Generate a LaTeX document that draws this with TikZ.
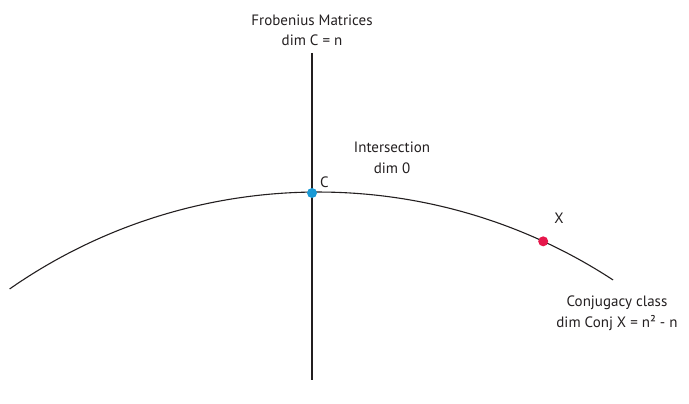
\documentclass[tikz,border=0pt]{standalone}
\usepackage{fontspec}
\setmainfont{PT Sans}
\usepackage{tikz}
\usetikzlibrary{positioning, calc}
\definecolor{FigText}{HTML}{231F20}
\definecolor{FigCyan}{HTML}{1A9AD6}
\definecolor{FigMagenta}{HTML}{E6174B}

\begin{document}
\begin{tikzpicture}[
x=1pt, y=-1pt,
font=\fontsize{15}{20.5}\selectfont,
label/.style={
text=FigText,
align=center,
inner sep=0pt
},
curveline/.style={draw=FigText, line width=1.1pt},
dot/.style={circle, inner sep=0pt, minimum size=10pt}
]
\useasboundingbox (0,0) rectangle (689,404);

% Centre of the circle carrying the conjugacy class
\coordinate (ctr) at (318,731);

% Vertical line: Frobenius matrices
\coordinate (ftop) at (312,53);
\coordinate (fbot) at (312,380);
\draw[curveline] (ftop) -- (fbot);

% Arc: conjugacy class
\draw[curveline] ($(ctr)+(124.9:539 and -539)$) arc[start angle=124.9, end angle=56.8, x radius=539, y radius=-539];

% Points
\node[dot, fill=FigCyan] (C) at (312,193) {};
\node[dot, fill=FigMagenta] (X) at ($(ctr)+(65.3:539 and -539)$) {};

% Labels
\node[label, anchor=south] (frob) at (312,46) {Frobenius Matrices\\dim C = n};
\node[label] (inter) at (392,158) {Intersection\\dim 0};
\node[label, above right=5pt and 8pt of C.center] (Clab) {C};
\node[label, above right=18pt and 11pt of X.center] (Xlab) {X};
\node[label] (conj) at (617,313) {Conjugacy class\\dim Conj X = n² - n};

\end{tikzpicture}
\end{document}
